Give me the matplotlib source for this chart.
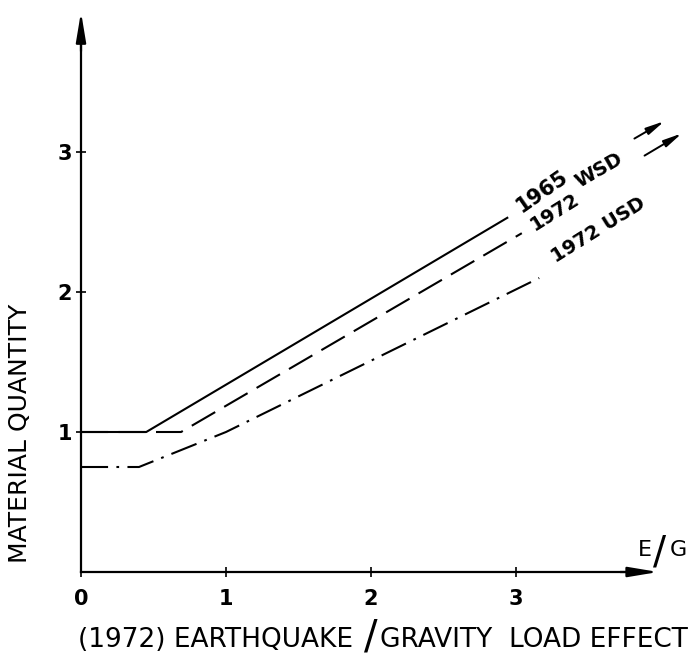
import matplotlib
matplotlib.use("Agg")
import matplotlib.pyplot as plt

# curve data (E/G ratio vs material quantity)
wsd65_x = [0, 0.45, 2.94]
wsd65_y = [1.0, 1.0, 2.53]
wsd72_x = [0, 0.69, 3.04]
wsd72_y = [1.0, 1.0, 2.42]
usd72_x = [0, 0.40, 1.0, 3.16]
usd72_y = [0.75, 0.75, 1.0, 2.10]

xticks = [0, 1, 2, 3]
yticks = [1, 2, 3]

plt.rcParams['font.family'] = ['DejaVu Sans']

fig = plt.figure(figsize=(7, 6.6), dpi=100)
ax = fig.add_axes([0, 0, 1, 1])
# pixel mapping: x=0 at 81px, 145px/unit; y=0 at 572px from top, 140px/unit
ax.set_xlim(-81 / 145, 619 / 145)
ax.set_ylim(-88 / 140, 572 / 140)

for s in ['top', 'right']:
    ax.spines[s].set_visible(False)
ax.spines['left'].set_position(('data', 0))
ax.spines['bottom'].set_position(('data', 0))
ax.spines['left'].set_bounds(0, 3.85)
ax.spines['bottom'].set_bounds(0, 3.85)
ax.spines['left'].set_linewidth(1.6)
ax.spines['bottom'].set_linewidth(1.6)

# axis arrow heads
head = '-|>,head_length=1.8,head_width=0.3'
ax.annotate('', xy=(0, 4.02), xytext=(0, 3.7),
            arrowprops=dict(arrowstyle=head, color='black', lw=1.6))
ax.annotate('', xy=(4.0, 0), xytext=(3.7, 0),
            arrowprops=dict(arrowstyle=head, color='black', lw=1.6))

ax.set_xticks(xticks)
ax.set_yticks(yticks)
ax.tick_params(axis='both', direction='inout', length=7, width=1.2)
ax.tick_params(axis='x', pad=9, labelsize=15)
ax.tick_params(axis='y', pad=3, labelsize=15)
for lab in ax.get_xticklabels() + ax.get_yticklabels():
    lab.set_fontweight('bold')

ax.plot(wsd65_x, wsd65_y, color='black', lw=1.5)
ax.plot(wsd72_x, wsd72_y, color='black', lw=1.5, dashes=(13, 5))
ax.plot(usd72_x, usd72_y, color='black', lw=1.5, dashes=(13, 4, 1.3, 4))

# curve labels
ax.text(3.18, 2.72, '1965', rotation=35, ha='center', va='center',
        fontsize=15, fontweight='bold')
ax.text(3.57, 2.87, 'WSD', rotation=30, ha='center', va='center',
        fontsize=14, fontweight='bold')
ax.text(3.27, 2.57, '1972', rotation=32, ha='center', va='center',
        fontsize=14, fontweight='bold')
ax.text(3.57, 2.44, '1972 USD', rotation=32, ha='center', va='center',
        fontsize=14, fontweight='bold')

# little arrows after the labels
small = '-|>,head_length=1.1,head_width=0.22'
ax.annotate('', xy=(4.04, 3.23), xytext=(3.80, 3.086),
            arrowprops=dict(arrowstyle=small, color='black', lw=1.4))
ax.annotate('', xy=(4.16, 3.143), xytext=(3.87, 2.964),
            arrowprops=dict(arrowstyle=small, color='black', lw=1.4))

# E/G near the x arrow
ax.text(3.89, 0.16, 'E', ha='center', va='center', fontsize=16)
ax.text(3.99, 0.14, '/', ha='center', va='center', fontsize=28)
ax.text(4.12, 0.16, 'G', ha='center', va='center', fontsize=16)

# axis titles
ax.text(-0.42, 0.99, 'MATERIAL QUANTITY', rotation=90, ha='center', va='center',
        fontsize=18)
ax.text(-0.02, -0.486, '(1972) EARTHQUAKE', ha='left', va='center', fontsize=19)
ax.text(2.0, -0.47, '/', ha='center', va='center', fontsize=29)
ax.text(2.06, -0.486, 'GRAVITY  LOAD EFFECT', ha='left', va='center', fontsize=19)

fig.savefig('out.png', dpi=100)
